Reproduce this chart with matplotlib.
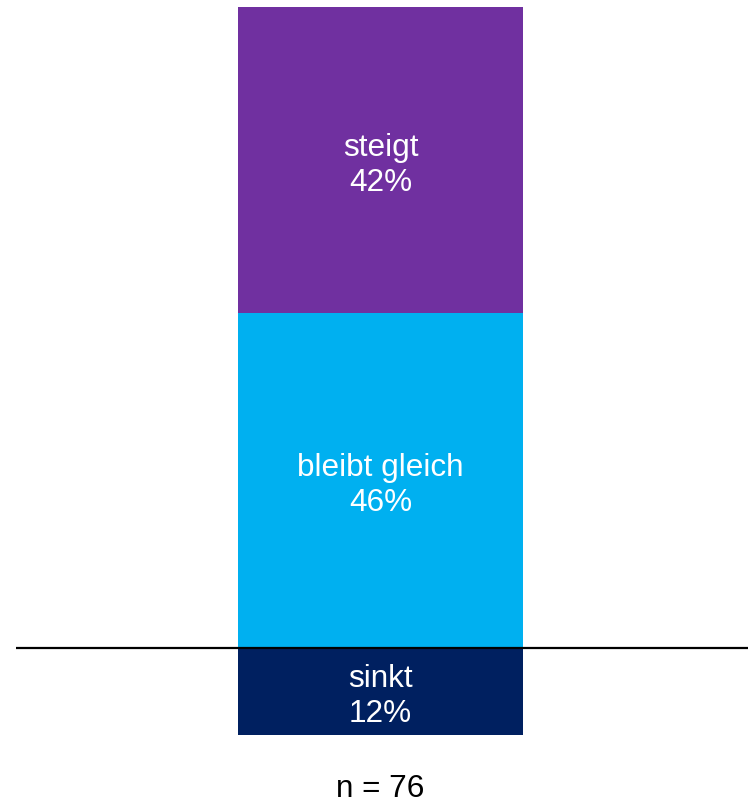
import matplotlib
matplotlib.use("Agg")
import matplotlib.pyplot as plt

plt.rcParams['font.family'] = ['Liberation Sans', 'DejaVu Sans']

categories = ["sinkt", "bleibt gleich", "steigt"]
values = [-12, 46, 42]
colors = ["#002060", "#00B0F0", "#7030A0"]
n_label = "n = 76"

W, H = 748, 803
fig = plt.figure(figsize=(W / 100, H / 100), dpi=100)
# axes: x from 16px to 748px, y from 8px (top) to 736px (bottom)
ax = fig.add_axes([16 / W, (H - 736) / H, (W - 16) / W, 728 / H])

bar_w = 0.8
pos_bottom = 0
for cat, val, col in zip(categories, values, colors):
    if val < 0:
        bottom = val
        height = -val
    else:
        bottom = pos_bottom
        height = val
        pos_bottom += val
    ax.bar(0, height, bottom=bottom, width=bar_w, color=col, edgecolor='none')
    ax.annotate(f"{cat}\n{abs(val)}%", xy=(0, bottom + height / 2), xytext=(0, -3),
                textcoords='offset points', ha='center', va='center',
                color='white', fontsize=22.7, linespacing=1.22)

ax.axhline(0, color='black', linewidth=1.6, zorder=5)

ax.set_ylim(min(values), sum(v for v in values if v > 0))
px_per_unit = 285 / bar_w
ax.set_xlim(-(380.5 - 16) / px_per_unit, (748 - 380.5) / px_per_unit)
ax.axis('off')

fig.text(380 / W, 1 - 789 / H, n_label, ha='center', va='center', fontsize=22.7, color='black')

fig.savefig("out.png", dpi=100)
